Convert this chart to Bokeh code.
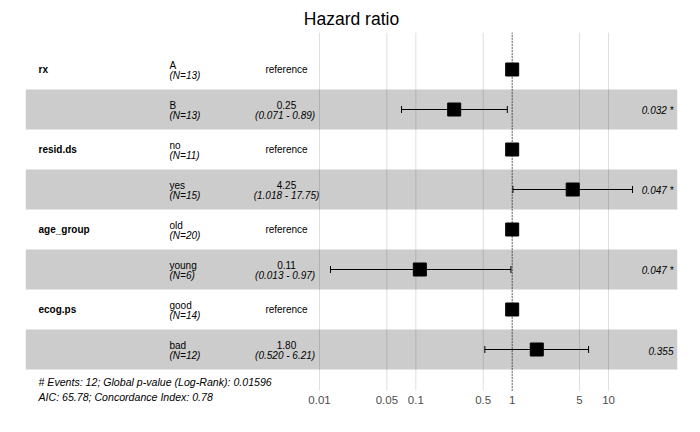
from bokeh.plotting import figure
from bokeh.models import (ColumnDataSource, LabelSet, Label, Range1d, FixedTicker,
                          Whisker, TeeHead, BoxAnnotation)
from bokeh.core.properties import value
from bokeh.embed import file_html
from bokeh.resources import INLINE

# ---------------- data ----------------
variables = ["rx", "resid.ds", "age_group", "ecog.ps"]
levels = ["A", "B", "no", "yes", "old", "young", "good", "bad"]
level_var = ["rx", "rx", "resid.ds", "resid.ds", "age_group", "age_group", "ecog.ps", "ecog.ps"]
n_obs = [13, 13, 11, 15, 20, 6, 14, 12]
is_reference = [True, False, True, False, True, False, True, False]
hr = [1.0, 0.25, 1.0, 4.25, 1.0, 0.11, 1.0, 1.80]
ci_low = [None, 0.071, None, 1.018, None, 0.013, None, 0.520]
ci_high = [None, 0.89, None, 17.75, None, 0.97, None, 6.21]
hr_text = ["reference", "0.25", "reference", "4.25", "reference", "0.11", "reference", "1.80"]
ci_text = ["", "(0.071 -  0.89)", "", "(1.018 - 17.75)", "", "(0.013 -  0.97)", "", "(0.520 -  6.21)"]
p_text = ["", "0.032 *", "", "0.047 *", "", "0.047 *", "", "0.355"]
tick_values = [0.01, 0.05, 0.1, 0.5, 1, 5, 10]
tick_labels = ["0.01", "0.05", "0.1", "0.5", "1", "5", "10"]
footer_lines = ["# Events: 12; Global p-value (Log-Rank): 0.01596",
                "AIC: 65.78; Concordance Index: 0.78"]
title_text = "Hazard ratio"

FONT = "Liberation Sans"
rows = list(range(1, len(levels) + 1))

# plot extents in row units (top of grid, bottom of grid, bottom of frame)
Y_TOP, Y_GRID_END, Y_BOTTOM = 0.075, 9.025, 9.425

# ---------------- figure ----------------
p = figure(width=692, height=424, output_backend="svg", toolbar_location=None,
           x_axis_type="log", y_axis_location=None,
           x_range=Range1d(10 ** -5.052, 10 ** 1.716),
           y_range=Range1d(Y_BOTTOM, Y_TOP),
           min_border_left=25, min_border_right=15,
           min_border_top=32, min_border_bottom=18)
p.outline_line_color = None
p.background_fill_color = "white"
p.grid.visible = False

p.title.text = title_text
p.title.align = "center"
p.title.text_font = FONT
p.title.text_font_size = "17.5px"
p.title.text_font_style = "normal"
p.title.text_color = "black"
p.title.standoff = 7

# gray bands for non-reference rows
for r, ref in zip(rows, is_reference):
    if not ref:
        p.add_layout(BoxAnnotation(top=r - 0.5, bottom=r + 0.5, fill_color="#cccccc",
                                   fill_alpha=1.0, line_color=None, level="underlay"))

# vertical grid lines (drawn over the bands)
p.segment(x0=tick_values, x1=tick_values, y0=[Y_TOP] * len(tick_values),
          y1=[Y_GRID_END] * len(tick_values), line_color="black", line_alpha=0.13,
          line_width=1)

# axis (labels pulled up into the frame area)
ax = p.xaxis[0]
ax.ticker = FixedTicker(ticks=tick_values)
ax.major_label_overrides = {v: l for v, l in zip(tick_values, tick_labels)}
ax.axis_line_color = None
ax.major_tick_line_color = None
ax.minor_tick_line_color = None
ax.major_tick_out = 0
ax.major_tick_in = 0
ax.major_label_standoff = -11
ax.major_label_text_font = FONT
ax.major_label_text_font_size = "11.5px"
ax.major_label_text_color = "#4d4d4d"

# reference line at HR = 1
p.segment(x0=[1], x1=[1], y0=[Y_TOP], y1=[Y_GRID_END], line_color="black",
          line_width=1, line_dash="1 2")

# confidence intervals
ci_idx = [i for i in range(len(levels)) if ci_low[i] is not None]
ci_src = ColumnDataSource(dict(y=[rows[i] for i in ci_idx],
                               lo=[ci_low[i] for i in ci_idx],
                               hi=[ci_high[i] for i in ci_idx]))
p.add_layout(Whisker(source=ci_src, base="y", lower="lo", upper="hi", dimension="width",
                     line_color="black", line_width=1,
                     lower_head=TeeHead(size=7, line_color="black", line_width=1),
                     upper_head=TeeHead(size=7, line_color="black", line_width=1),
                     level="glyph"))

# point estimates
p.scatter(x=hr, y=rows, marker="square", size=13, fill_color="black", line_color="black")

# ---------------- text columns ----------------
def labels(src, col, x, align="left", style="normal", yoff=0):
    ls = LabelSet(source=src, x=x, y="y", text=col, x_units="screen", y_units="data",
                  text_font=value(FONT), text_font_size="10px", text_font_style=style,
                  text_align=align, text_baseline="middle", text_color="black",
                  y_offset=yoff)
    p.add_layout(ls)

var_rows = [rows[level_var.index(v)] for v in variables]
labels(ColumnDataSource(dict(y=var_rows, t=variables)), "t", 13, style="bold")

lvl_src = ColumnDataSource(dict(y=rows, t=levels, n=[f"(N={k})" for k in n_obs]))
labels(lvl_src, "t", 144, yoff=4.5)
labels(lvl_src, "n", 144, style="italic", yoff=-6)

ref_i = [i for i in range(len(levels)) if is_reference[i]]
est_i = [i for i in range(len(levels)) if not is_reference[i]]
labels(ColumnDataSource(dict(y=[rows[i] for i in ref_i], t=[hr_text[i] for i in ref_i])),
       "t", 261, align="center")
est_src = ColumnDataSource(dict(y=[rows[i] for i in est_i], t=[hr_text[i] for i in est_i],
                                c=[ci_text[i] for i in est_i], pv=[p_text[i] for i in est_i]))
labels(est_src, "t", 261, align="center", yoff=4.5)
labels(est_src, "c", 261, align="center", style="italic", yoff=-6)
labels(est_src, "pv", 648, align="right", style="italic", yoff=-1)

for line, yy in zip(footer_lines, [25, 10]):
    p.add_layout(Label(x=13, y=yy, x_units="screen", y_units="screen", text=line,
                       text_font=FONT, text_font_size="10.6px", text_font_style="italic",
                       text_baseline="middle", text_color="black"))

open("out.html", "w").write(file_html(p, INLINE))
